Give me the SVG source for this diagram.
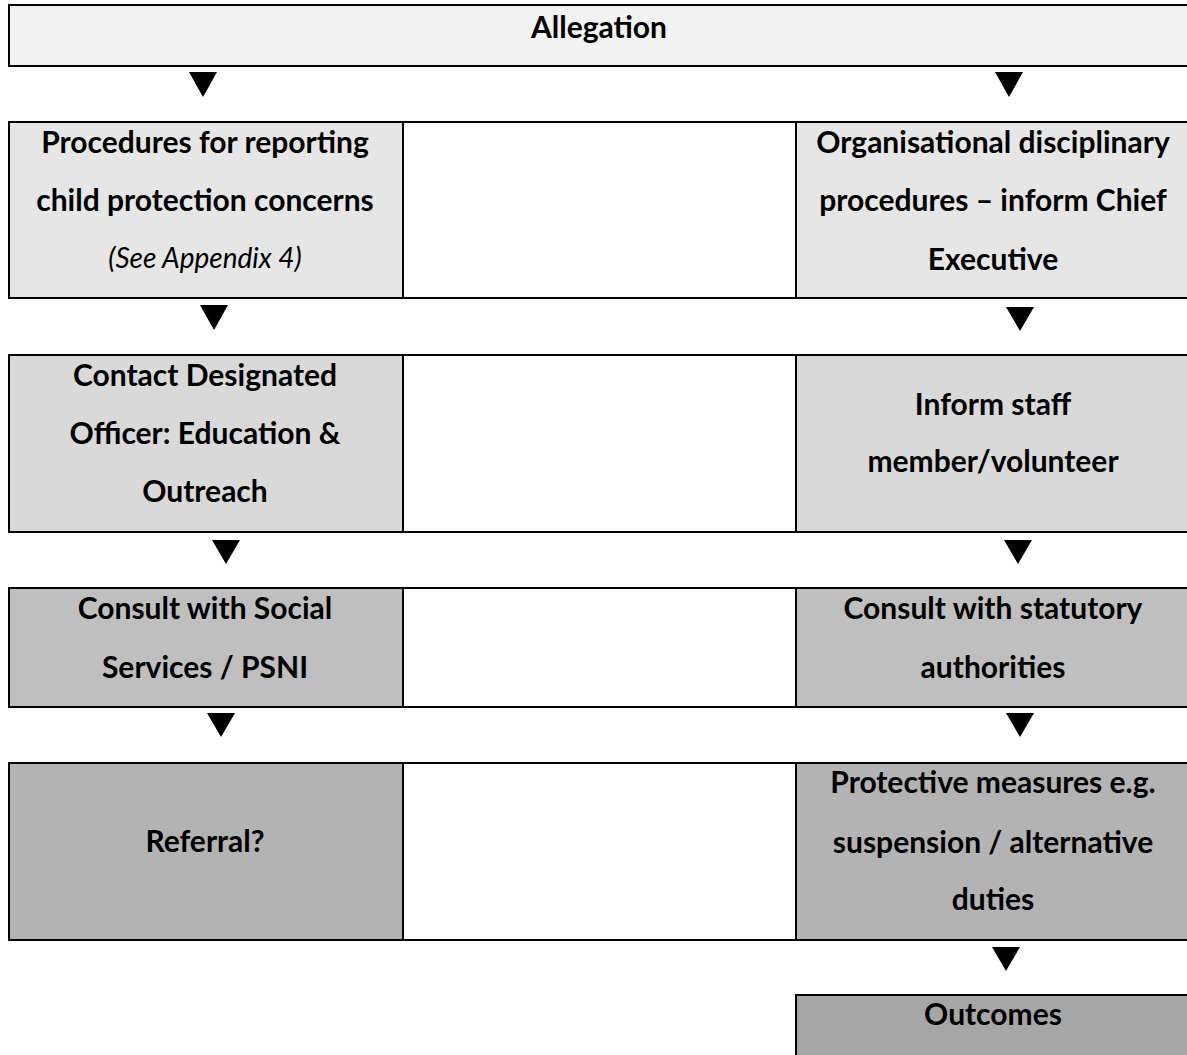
<svg xmlns="http://www.w3.org/2000/svg" width="1187" height="1055" viewBox="0 0 1187 1055">
<style>
.box{stroke:#000;stroke-width:2}
.t{font-family:Lato,"Liberation Sans",sans-serif;font-weight:bold;font-size:30px;fill:#000;text-anchor:middle}
.i{font-weight:normal;font-style:italic;font-size:28px}
.arr{fill:#000}
</style>
<rect width="1187" height="1055" fill="#fff"/>
<g id="allegation">
<rect class="box" x="9" y="5" width="1185" height="61" fill="#f2f2f2"/>
<text class="t" x="599" y="38">Allegation</text>
</g>
<g id="row1">
<rect class="box" x="9" y="122" width="394" height="176" fill="#e6e6e6"/>
<rect class="box" x="403" y="122" width="393" height="176" fill="#fff"/>
<rect class="box" x="796" y="122" width="398" height="176" fill="#e6e6e6"/>
</g>
<g id="n-procedures">
<text class="t" x="205" y="153">Procedures for reporting</text>
<text class="t" x="205" y="211">child protection concerns</text>
<text class="t i" x="205" y="268">(See Appendix 4)</text>
</g>
<g id="n-organisational">
<text class="t" x="993" y="153">Organisational disciplinary</text>
<text class="t" x="993" y="211">procedures – inform Chief</text>
<text class="t" x="993" y="270">Executive</text>
</g>
<g id="row2">
<rect class="box" x="9" y="355" width="394" height="177" fill="#d9d9d9"/>
<rect class="box" x="403" y="355" width="393" height="177" fill="#fff"/>
<rect class="box" x="796" y="355" width="398" height="177" fill="#d9d9d9"/>
</g>
<g id="n-contact">
<text class="t" x="205" y="386">Contact Designated</text>
<text class="t" x="205" y="444">Officer: Education &amp;</text>
<text class="t" x="205" y="502">Outreach</text>
</g>
<g id="n-inform">
<text class="t" x="993" y="415">Inform staff</text>
<text class="t" x="993" y="472">member/volunteer</text>
</g>
<g id="row3">
<rect class="box" x="9" y="588" width="394" height="119" fill="#bfbfbf"/>
<rect class="box" x="403" y="588" width="393" height="119" fill="#fff"/>
<rect class="box" x="796" y="588" width="398" height="119" fill="#bfbfbf"/>
</g>
<g id="n-consult-social">
<text class="t" x="205" y="619">Consult with Social</text>
<text class="t" x="205" y="678">Services / PSNI</text>
</g>
<g id="n-consult-statutory">
<text class="t" x="993" y="619">Consult with statutory</text>
<text class="t" x="993" y="678">authorities</text>
</g>
<g id="row4">
<rect class="box" x="9" y="763" width="394" height="177" fill="#b3b3b3"/>
<rect class="box" x="403" y="763" width="393" height="177" fill="#fff"/>
<rect class="box" x="796" y="763" width="398" height="177" fill="#b3b3b3"/>
</g>
<g id="n-referral">
<text class="t" x="205" y="852">Referral?</text>
</g>
<g id="n-protective">
<text class="t" x="993" y="793">Protective measures e.g.</text>
<text class="t" x="993" y="853">suspension / alternative</text>
<text class="t" x="993" y="910">duties</text>
</g>
<g id="n-outcomes">
<rect class="box" x="796" y="995" width="398" height="80" fill="#a6a6a6"/>
<text class="t" x="993" y="1025">Outcomes</text>
</g>
<g id="connectors">
<polygon class="arr" points="189,72 217,72 203,97"/>
<polygon class="arr" points="995,72 1023,72 1009,97"/>
<polygon class="arr" points="200,305 228,305 214,330"/>
<polygon class="arr" points="1006,307 1034,307 1020,331"/>
<polygon class="arr" points="212,540 240,540 226,564"/>
<polygon class="arr" points="1004,540 1032,540 1018,564"/>
<polygon class="arr" points="207,713 235,713 221,737"/>
<polygon class="arr" points="1006,713 1034,713 1020,737"/>
<polygon class="arr" points="992,947 1020,947 1006,971"/>
</g>
</svg>
